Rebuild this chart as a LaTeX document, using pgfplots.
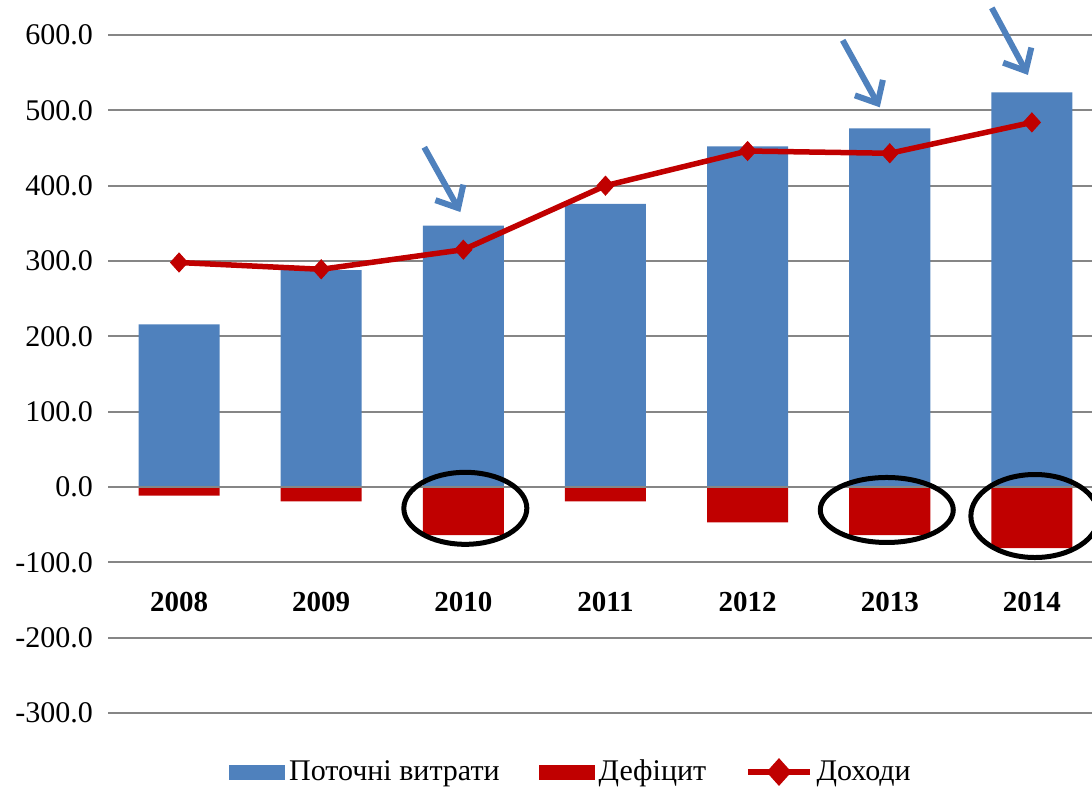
\documentclass[border=0pt]{standalone}
\usepackage{fontspec}
\setmainfont{Liberation Serif}
\usepackage{pgfplots}
\pgfplotsset{compat=1.18}
\usetikzlibrary{arrows.meta}
\definecolor{barblue}{RGB}{79,129,189}
\definecolor{barred}{RGB}{192,0,0}
\definecolor{gridgray}{RGB}{134,134,134}
\begin{document}
\begin{tikzpicture}
\useasboundingbox (0,0) rectangle (546pt,394.5pt);
\begin{axis}[
  at={(54pt,38pt)}, anchor=south west,
  width=492pt, height=339pt, scale only axis,
  xmin=-0.5, xmax=6.423, ymin=-300, ymax=600,
  ytick={-300,-200,...,600},
  xtick={0,1,2,3,4,5,6},
  xticklabels={2008,2009,2010,2011,2012,2013,2014},
  axis line style={draw=none},
  major tick length=0pt,
  ymajorgrids, grid style={gridgray, line width=1pt},
  yticklabel style={/pgf/number format/.cd, fixed, fixed zerofill, precision=1, assume math mode=true, /tikz/.cd,
    font=\fontsize{15}{18}\selectfont, anchor=east, xshift=-4pt},
  xticklabel style={font=\bfseries\fontsize{14.5}{17}\selectfont, anchor=center, yshift=55.5pt},
  bar width=0.57, clip=false,
  legend columns=3,
  legend style={at={(0.4715,0)}, anchor=center, yshift=-29.5pt, draw=none, fill=none,
    font=\fontsize{15}{18}\selectfont,
    /tikz/every even column/.append style={column sep=17.5pt}},
]
\addplot[ybar, bar shift=0pt, fill=barblue, draw=none,
  legend image code/.code={\fill[barblue] (0pt,-3.75pt) rectangle (28pt,3.75pt);}]
  coordinates {(0,216) (1,288) (2,347) (3,376) (4,452) (5,476) (6,524)};
\addlegendentry{Поточні витрати}
\addplot[ybar, bar shift=0pt, fill=barred, draw=none,
  legend image code/.code={\fill[barred] (0pt,-3.75pt) rectangle (28pt,3.75pt);}]
  coordinates {(0,-11.5) (1,-19) (2,-64) (3,-19) (4,-47) (5,-64) (6,-81)};
\addlegendentry{Дефіцит}
\draw[gridgray, line width=1pt] (axis cs:-0.5,0) -- (axis cs:6.423,0);
\addplot[barred, line width=2.75pt, mark=diamond*, mark size=4.7pt,
  mark options={solid, line width=0.5pt, xscale=1.2},
  legend image code/.code={\draw[barred, line width=2.75pt] (0pt,0pt) -- (31pt,0pt);
    \fill[barred] (15.5pt,4.9pt) -- (19.9pt,0pt) -- (15.5pt,-4.9pt) -- (11.1pt,0pt) -- cycle;}]
  coordinates {(0,298) (1,289) (2,315) (3,400) (4,446) (5,443) (6,484)};
\addlegendentry{Доходи}
% annotations
\draw[barblue, line width=3pt, -{Straight Barb[length=9pt, width=16pt]}] (axis cs:1.725,451) -- (axis cs:1.979,365);
\draw[barblue, line width=3pt, -{Straight Barb[length=9pt, width=16pt]}] (axis cs:4.669,593) -- (axis cs:4.93,504);
\draw[barblue, line width=3pt, -{Straight Barb[length=9pt, width=16pt]}] (axis cs:5.718,636) -- (axis cs:5.972,547);
\draw[black, line width=2.5pt] (axis cs:2.014,-28.3) ellipse [x radius=30.75pt, y radius=18pt];
\draw[black, line width=2.5pt] (axis cs:4.979,-30.5) ellipse [x radius=33.25pt, y radius=16.25pt];
\draw[black, line width=2.5pt] (axis cs:6.021,-38.5) ellipse [x radius=32pt, y radius=20.75pt];
\end{axis}
\end{tikzpicture}
\end{document}
